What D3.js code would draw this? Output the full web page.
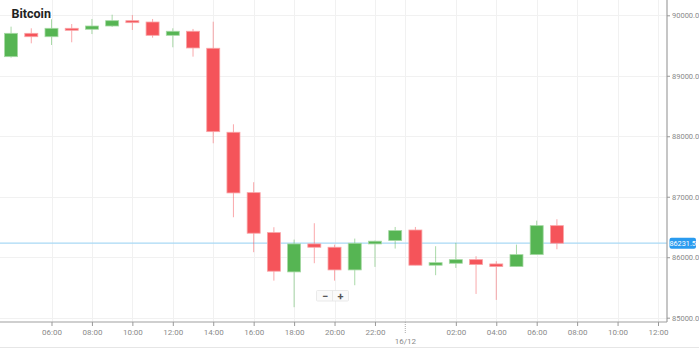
<!DOCTYPE html>
<html>
<head>
<meta charset="utf-8">
<script src="https://cdn.jsdelivr.net/npm/d3@7"></script>
<style>
  body { margin: 0; background: #fff; }
  svg { display: block; font-family: Roboto, "Noto Sans", sans-serif; }
</style>
</head>
<body>
<div id="chart"></div>
<script>
const width = 699;
const height = 348;

// hours counted from 15/12 00:00
const hours = [4, 5, 6, 7, 8, 9, 10, 11, 12, 13, 14, 15, 16, 17, 18, 19, 20, 21, 22, 23, 24, 25, 26, 27, 28, 29, 30, 31];
const opens = [89316, 89702, 89646, 89785, 89769, 89823, 89911, 89889, 89669, 89736, 89455, 88066, 87068, 86407, 85757, 86220, 86165, 85790, 86220, 86275, 86450, 85868, 85900, 85960, 85889, 85845, 86043, 86522];
const highs = [89812, 89785, 89934, 89856, 89939, 90010, 90005, 89939, 89785, 89774, 89894, 88198, 87240, 86496, 86291, 86562, 86208, 86308, 86275, 86500, 86500, 86182, 86237, 86017, 85934, 86208, 86605, 86628];
const lows = [89300, 89537, 89509, 89554, 89690, 89807, 89757, 89630, 89471, 89316, 87884, 86661, 86083, 85613, 85174, 85901, 85613, 85537, 85840, 86143, 85868, 85703, 85823, 85393, 85294, 85845, 86043, 86132];
const closes = [89702, 89646, 89785, 89770, 89823, 89911, 89890, 89669, 89736, 89460, 88076, 87063, 86397, 85769, 86220, 86165, 85790, 86231, 86265, 86440, 85868, 85910, 85960, 85878, 85845, 86043, 86522, 86231.5];

const xTickHours = [6, 8, 10, 12, 14, 16, 18, 20, 22, 26, 28, 30, 32, 34, 36];
const xTickLabels = ["06:00", "08:00", "10:00", "12:00", "14:00", "16:00", "18:00", "20:00", "22:00", "02:00", "04:00", "06:00", "08:00", "10:00", "12:00"];
const dayHour = 23.5;
const dayLabel = "16/12";
const yTicks = [85000, 86000, 87000, 88000, 89000, 90000];
const lastPrice = 86231.5;
const title = "Bitcoin";

const base = Date.UTC(2024, 11, 15);
const toDate = h => new Date(base + h * 3600000);

const candles = hours.map((h, i) => ({
  t: toDate(h), o: opens[i], h: highs[i], l: lows[i], c: closes[i]
}));

const axisX = 667;
const axisY = 322;

const x = d3.scaleUtc()
  .domain([toDate(6), toDate(36)])
  .range([51.5, 658]);

const y = d3.scaleLinear()
  .domain([85000, 90000])
  .range([317.7, 15.3]);

const svg = d3.select("#chart")
  .append("svg")
  .attr("width", width)
  .attr("height", height);

// grid
svg.append("g")
  .selectAll("line")
  .data(yTicks)
  .join("line")
  .attr("x1", 0)
  .attr("x2", axisX)
  .attr("y1", d => Math.round(y(d)) + 0.5)
  .attr("y2", d => Math.round(y(d)) + 0.5)
  .attr("stroke", "#f1f1f1");

const gridHours = xTickHours.concat([dayHour]);
svg.append("g")
  .selectAll("line")
  .data(gridHours)
  .join("line")
  .attr("x1", d => Math.round(x(toDate(d))) + 0.5)
  .attr("x2", d => Math.round(x(toDate(d))) + 0.5)
  .attr("y1", 0)
  .attr("y2", axisY)
  .attr("stroke", "#f1f1f1");

// current price line
svg.append("line")
  .attr("x1", 0)
  .attr("x2", axisX)
  .attr("y1", y(lastPrice))
  .attr("y2", y(lastPrice))
  .attr("stroke", "#a9d9f5")
  .attr("stroke-width", 1.3);

// candles
const up = "#56b553";
const down = "#f5545a";
const bodyW = 13;

const cg = svg.append("g")
  .selectAll("g")
  .data(candles)
  .join("g")
  .attr("transform", d => `translate(${x(d.t)},0)`);

cg.append("line")
  .attr("y1", d => y(d.h))
  .attr("y2", d => y(d.l))
  .attr("stroke", d => d.c >= d.o ? up : down)
  .attr("stroke-opacity", 0.5)
  .attr("stroke-width", 1);

cg.append("rect")
  .attr("x", -bodyW / 2)
  .attr("width", bodyW)
  .attr("y", d => y(Math.max(d.o, d.c)))
  .attr("height", d => Math.max(2, Math.abs(y(d.o) - y(d.c))))
  .attr("fill", d => d.c >= d.o ? up : down)
  .attr("stroke", d => d.c >= d.o ? "#a6d9a4" : "#f9a3a6")
  .attr("stroke-width", 0.8);

// right axis
svg.append("line")
  .attr("x1", axisX)
  .attr("x2", axisX)
  .attr("y1", 0)
  .attr("y2", axisY)
  .attr("stroke", "#a0a0a0")
  .attr("stroke-width", 1.2);

const yAxis = svg.append("g")
  .attr("transform", `translate(${axisX},0)`)
  .call(d3.axisRight(y).tickValues(yTicks).tickFormat(d3.format(".1f")).tickSize(3).tickPadding(2));
yAxis.select(".domain").remove();
yAxis.selectAll("line").attr("stroke", "#999");
yAxis.selectAll("text").attr("fill", "#8a8a8a").attr("font-size", 7.5).attr("font-family", "Roboto, sans-serif");

// bottom axis
svg.append("line")
  .attr("x1", 0)
  .attr("x2", axisX)
  .attr("y1", axisY)
  .attr("y2", axisY)
  .attr("stroke", "#a0a0a0")
  .attr("stroke-width", 1.2);

const xAxis = svg.append("g")
  .attr("transform", `translate(0,${axisY})`)
  .call(d3.axisBottom(x)
    .tickValues(xTickHours.map(toDate))
    .tickFormat((d, i) => xTickLabels[i])
    .tickSize(4)
    .tickPadding(3));
xAxis.select(".domain").remove();
xAxis.selectAll("line").attr("stroke", "#999");
xAxis.selectAll("text").attr("fill", "#8a8a8a").attr("font-size", 8).attr("font-family", "Roboto, sans-serif");

// day separator
const dx = x(toDate(dayHour));
svg.append("line")
  .attr("x1", dx)
  .attr("x2", dx)
  .attr("y1", axisY)
  .attr("y2", axisY + 12)
  .attr("stroke", "#aaa")
  .attr("stroke-dasharray", "1,1");
svg.append("text")
  .attr("x", dx)
  .attr("y", 344)
  .attr("text-anchor", "middle")
  .attr("fill", "#8a8a8a")
  .attr("font-size", 8)
  .text(dayLabel);

// bottom border
svg.append("line")
  .attr("x1", 0)
  .attr("x2", width)
  .attr("y1", 347.5)
  .attr("y2", 347.5)
  .attr("stroke", "#e6e6e6");

// price label
const py = y(lastPrice);
svg.append("rect")
  .attr("x", 669.5)
  .attr("y", py - 5.5)
  .attr("width", 26.5)
  .attr("height", 11)
  .attr("rx", 2)
  .attr("fill", "#2a9bef");
svg.append("text")
  .attr("x", 682.7)
  .attr("y", py + 2.6)
  .attr("text-anchor", "middle")
  .attr("fill", "#fff")
  .attr("font-size", 7.3)
  .text(d3.format(".1f")(lastPrice));

// title
svg.append("text")
  .attr("x", 11.5)
  .attr("y", 18)
  .attr("font-weight", "bold")
  .attr("font-size", 12.5)
  .attr("fill", "#222")
  .text(title);

// zoom control
const zc = svg.append("g").attr("transform", "translate(316.5,290.5)");
zc.append("rect").attr("width", 32).attr("height", 10.5).attr("fill", "#fafafa")
  .attr("stroke", "#e4e4e4").attr("stroke-width", 0.8).attr("rx", 1);
zc.append("line").attr("x1", 16).attr("x2", 16).attr("y1", 0).attr("y2", 10.5).attr("stroke", "#e4e4e4").attr("stroke-width", 0.8);
zc.append("text").attr("x", 8.5).attr("y", 9).attr("text-anchor", "middle")
  .attr("font-size", 11).attr("font-weight", "bold").attr("fill", "#555").text("−");
zc.append("text").attr("x", 24).attr("y", 9).attr("text-anchor", "middle")
  .attr("font-size", 11).attr("font-weight", "bold").attr("fill", "#555").text("+");
</script>
</body>
</html>
